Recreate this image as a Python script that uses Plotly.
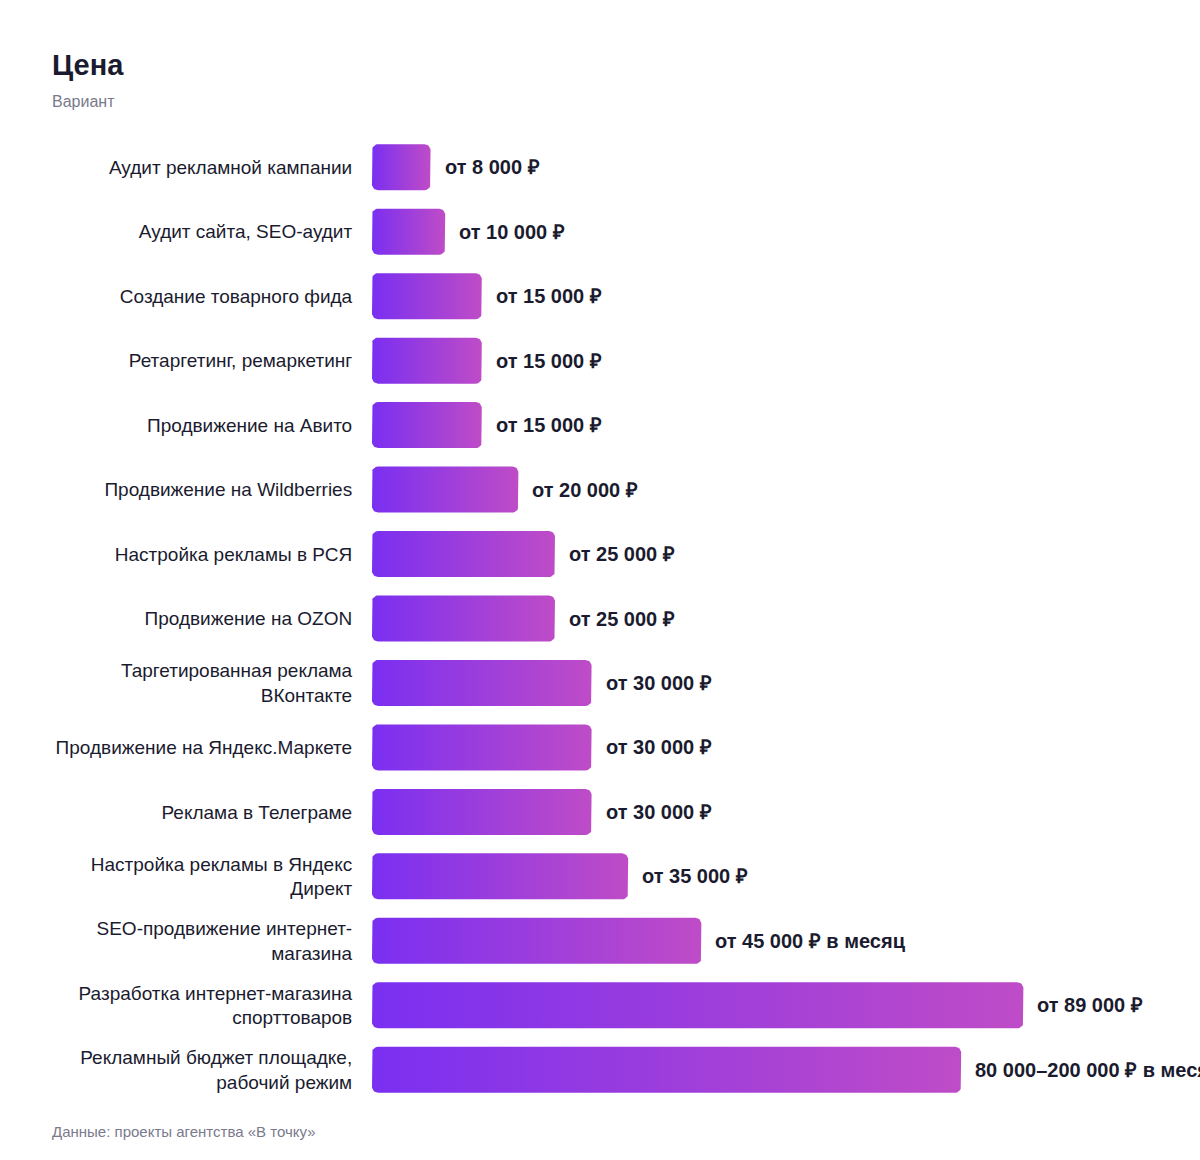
import math
import plotly.graph_objects as go

categories = [
    "Аудит рекламной кампании",
    "Аудит сайта, SEO-аудит",
    "Создание товарного фида",
    "Ретаргетинг, ремаркетинг",
    "Продвижение на Авито",
    "Продвижение на Wildberries",
    "Настройка рекламы в РСЯ",
    "Продвижение на OZON",
    "Таргетированная реклама<br>ВКонтакте",
    "Продвижение на Яндекс.Маркете",
    "Реклама в Телеграме",
    "Настройка рекламы в Яндекс<br>Директ",
    "SEO-продвижение интернет-<br>магазина",
    "Разработка интернет-магазина<br>спорттоваров",
    "Рекламный бюджет площадке,<br>рабочий режим",
]
values = [8000, 10000, 15000, 15000, 15000, 20000, 25000, 25000, 30000, 30000,
          30000, 35000, 45000, 89000, 80500]
value_labels = [
    "от 8 000 ₽", "от 10 000 ₽", "от 15 000 ₽", "от 15 000 ₽", "от 15 000 ₽",
    "от 20 000 ₽", "от 25 000 ₽", "от 25 000 ₽", "от 30 000 ₽", "от 30 000 ₽",
    "от 30 000 ₽", "от 35 000 ₽", "от 45 000 ₽ в месяц", "от 89 000 ₽",
    "80 000–200 000 ₽ в месяц",
]

FONT = "Liberation Sans, Arial, sans-serif"
W, H = 1200, 1160
L, R, T, B = 372, 20, 135, 58
PW, PH = W - L - R, H - T - B
XMAX = 110400
n = len(categories)
YR = [n - 0.5, -0.5]
px_x = PW / XMAX          # pixels per x unit
px_y = PH / n             # pixels per category
HALF = 23 / px_y          # bar half-height in y units
RAD = 6                   # corner radius, px


def rounded_rect(x0, x1, yc):
    rx = RAD / px_x
    ry = RAD / px_y
    y0, y1 = yc - HALF, yc + HALF
    xs, ys = [], []
    corners = [
        (x1 - rx, y0 + ry, -90, 0),
        (x1 - rx, y1 - ry, 0, 90),
        (x0 + rx, y1 - ry, 90, 180),
        (x0 + rx, y0 + ry, 180, 270),
    ]
    for cx, cy, a0, a1 in corners:
        for k in range(9):
            a = math.radians(a0 + (a1 - a0) * k / 8)
            xs.append(cx + rx * math.cos(a))
            ys.append(cy + ry * math.sin(a))
    xs.append(xs[0]); ys.append(ys[0])
    return xs, ys


fig = go.Figure()
for i, (c, v) in enumerate(zip(categories, values)):
    xs, ys = rounded_rect(0, v, i)
    fig.add_trace(go.Scatter(
        x=xs, y=ys, mode="lines", fill="toself",
        line=dict(width=0),
        fillgradient=dict(type="horizontal",
                          colorscale=[[0, "#7A2FF1"], [1, "#BF4CC7"]]),
        hoverinfo="skip", showlegend=False,
    ))

annotations = []
for i, (v, lab) in enumerate(zip(values, value_labels)):
    annotations.append(dict(
        x=v, y=i, xref="x", yref="y", text=f"<b>{lab}</b>",
        showarrow=False, xanchor="left", yanchor="middle", xshift=12,
        font=dict(family=FONT, size=20, color="#1B1B2F"),
    ))


def pxx(p):
    return (p - L) / PW


def pxy(p):
    return (H - B - p) / PH


annotations += [
    dict(x=pxx(50), y=pxy(65), xref="paper", yref="paper", text="<b>Цена</b>",
         showarrow=False, xanchor="left", yanchor="middle",
         font=dict(family=FONT, size=29, color="#1B1B2F")),
    dict(x=pxx(50), y=pxy(102), xref="paper", yref="paper", text="Вариант",
         showarrow=False, xanchor="left", yanchor="middle",
         font=dict(family=FONT, size=16, color="#7A7A8C")),
    dict(x=pxx(50), y=pxy(1131), xref="paper", yref="paper",
         text="Данные: проекты агентства «В точку»",
         showarrow=False, xanchor="left", yanchor="middle",
         font=dict(family=FONT, size=15, color="#7A7A8C")),
]

fig.update_layout(
    width=W, height=H,
    margin=dict(l=L, r=R, t=T, b=B),
    paper_bgcolor="white", plot_bgcolor="white",
    annotations=annotations,
    xaxis=dict(range=[0, XMAX], visible=False, fixedrange=True),
    yaxis=dict(range=YR, tickvals=list(range(n)), ticktext=categories,
               showgrid=False, zeroline=False, showline=False,
               ticks="outside", ticklen=15, tickcolor="rgba(0,0,0,0)",
               tickfont=dict(family=FONT, size=19, color="#1B1B2F"),
               fixedrange=True),
    font=dict(family=FONT),
)

fig.write_html(
    "out.html",
    config={"displayModeBar": False},
    post_script="document.body.style.margin='0';document.body.style.overflow='hidden';",
)
